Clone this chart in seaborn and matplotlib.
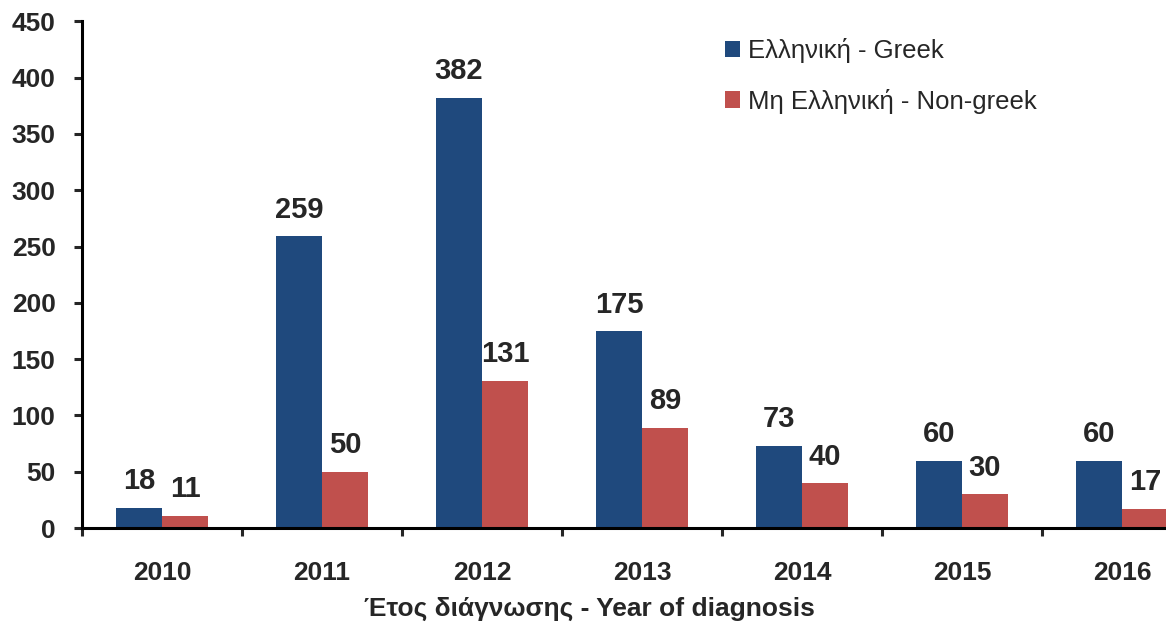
import pandas as pd
import numpy as np
import matplotlib.pyplot as plt
import seaborn as sns

# data
years = ['2010', '2011', '2012', '2013', '2014', '2015', '2016']
greek = [18, 259, 382, 175, 73, 60, 60]
non_greek = [11, 50, 131, 89, 40, 30, 17]
series_names = ['Ελληνική - Greek', 'Μη Ελληνική - Non-greek']

df = pd.DataFrame({
    'year': years * 2,
    'count': greek + non_greek,
    'group': [series_names[0]] * len(years) + [series_names[1]] * len(years),
})

sns.set_style('white')
plt.rcParams['font.family'] = ['Liberation Sans', 'DejaVu Sans']

fig = plt.figure(figsize=(11.66, 6.25), dpi=100)
# the original chart is cut off at the right edge, so the axes run past it
ax = fig.add_axes([82 / 1166, 0.155, 1120 / 1166, 0.811])

sns.barplot(data=df, x='year', y='count', hue='group', ax=ax,
            palette=['#1F497D', '#C0504D'], width=0.575, saturation=1,
            edgecolor='none', errorbar=None)

# value labels above the bars
for cont in ax.containers:
    ax.bar_label(cont, padding=9, fontsize=21, fontweight='bold')

ax.set_ylim(0, 450)
ax.set_yticks(np.arange(0, 451, 50))
ax.set_xlim(-0.5, len(years) - 0.5)

# category boundary ticks on x axis
ax.set_xticks(np.arange(-0.5, len(years), 1), minor=True)
ax.tick_params(axis='x', which='major', length=0, pad=24, labelsize=19)
ax.tick_params(axis='x', which='minor', length=6, width=2.2, direction='out', bottom=True)
ax.tick_params(axis='y', length=6, width=2.2, direction='out', left=True, labelsize=19, pad=13)
for lbl in ax.get_xticklabels() + ax.get_yticklabels():
    lbl.set_fontweight('bold')

for s in ['top', 'right']:
    ax.spines[s].set_visible(False)
for s in ['left', 'bottom']:
    ax.spines[s].set_linewidth(2.2)
    ax.spines[s].set_color('black')

ax.set_ylabel('')
ax.set_xlabel('Έτος διάγνωσης - Year of diagnosis', fontsize=19, fontweight='bold', labelpad=8)
ax.xaxis.label.set_x(0.453)

ax.legend(loc='upper left', bbox_to_anchor=(0.574, 0.967), frameon=False, fontsize=18.5,
          handlelength=0.6, handleheight=0.6, handletextpad=0.3, labelspacing=1.0,
          borderpad=0, borderaxespad=0)

plt.savefig('out.png', dpi=100)
plt.close()
